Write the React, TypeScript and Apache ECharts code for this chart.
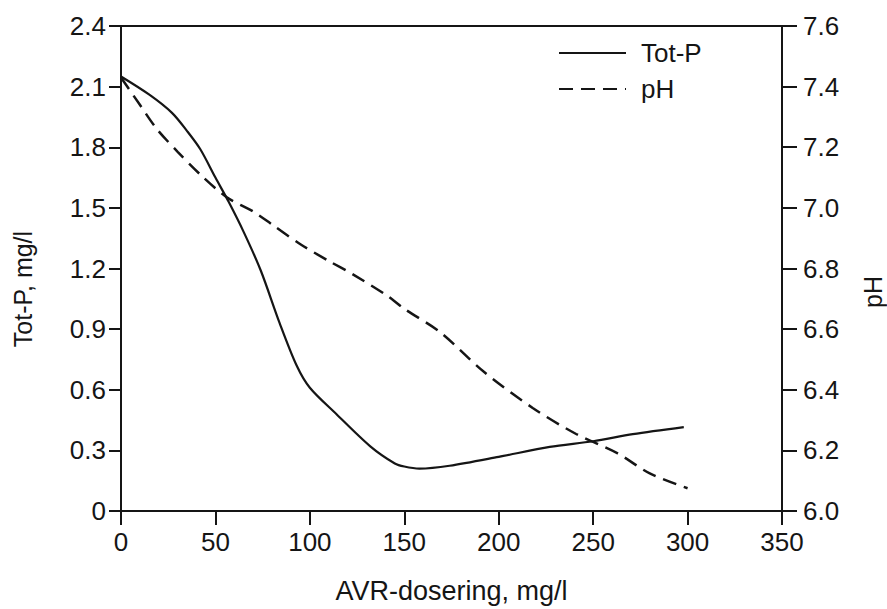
import React, { useEffect, useRef } from "react";
import * as echarts from "echarts";

// AVR dosage (mg/l) vs Tot-P (mg/l)
const totPDose = [0, 15, 27, 35, 42, 50, 57, 65, 74, 84, 93, 100, 114, 132, 145, 150, 158, 174, 200, 227, 250, 271, 298];
const totPValues = [2.15, 2.06, 1.97, 1.88, 1.79, 1.65, 1.53, 1.38, 1.19, 0.93, 0.72, 0.61, 0.48, 0.32, 0.235, 0.22, 0.21, 0.224, 0.268, 0.317, 0.345, 0.38, 0.415];

// AVR dosage (mg/l) vs pH
const phDose = [0, 10, 19, 30, 42, 56, 70, 80, 95, 110, 123, 141, 150, 169, 192, 218, 241, 263, 280, 300];
const phValues = [7.43, 7.34, 7.26, 7.185, 7.11, 7.035, 6.988, 6.945, 6.88, 6.825, 6.78, 6.71, 6.667, 6.59, 6.46, 6.34, 6.254, 6.19, 6.124, 6.075];

const seriesNames = ["Tot-P", "pH"];
const xAxisName = "AVR-dosering, mg/l";
const leftAxisName = "Tot-P, mg/l";
const rightAxisName = "pH";

const FONT = "'Liberation Sans', Arial, Helvetica, sans-serif";
const INK = "#151515";

export default function App() {
  const ref = useRef<HTMLDivElement>(null);

  useEffect(() => {
    if (!ref.current) return;
    const chart = echarts.init(ref.current, null, { renderer: "svg" });
    const labelStyle = { color: INK, fontSize: 26, fontFamily: FONT };
    const lineStyle = { color: INK, width: 2 };

    chart.setOption({
      animation: false,
      backgroundColor: "#ffffff",
      textStyle: { fontFamily: FONT, color: INK },
      grid: { left: 121, right: 105, top: 26, bottom: 91, containLabel: false },
      legend: {
        orient: "vertical",
        left: 553,
        top: 35,
        itemWidth: 67,
        itemHeight: 14,
        itemGap: 10,
        data: seriesNames,
        itemStyle: { opacity: 0 },
        textStyle: { color: INK, fontSize: 26, fontFamily: FONT, lineHeight: 26, padding: [0, 0, 0, 10] },
      },
      xAxis: [
        {
          type: "value",
          min: 0,
          max: 350,
          interval: 50,
          name: xAxisName,
          nameLocation: "middle",
          nameGap: 66,
          nameTextStyle: { color: INK, fontSize: 27, fontFamily: FONT },
          axisLine: { show: true, onZero: false, lineStyle },
          axisTick: { show: true, inside: false, length: 14, lineStyle },
          axisLabel: { ...labelStyle, margin: 18 },
          splitLine: { show: false },
        },
        {
          type: "value",
          position: "top",
          min: 0,
          max: 350,
          axisLine: { show: true, onZero: false, lineStyle },
          axisTick: { show: false },
          axisLabel: { show: false },
          splitLine: { show: false },
        },
      ],
      yAxis: [
        {
          type: "value",
          min: 0,
          max: 2.4,
          interval: 0.3,
          position: "left",
          axisLine: { show: true, onZero: false, lineStyle },
          axisTick: { show: true, inside: false, length: 12, lineStyle },
          axisLabel: {
            ...labelStyle,
            margin: 15,
            formatter: (v: number) => (v === 0 ? "0" : v.toFixed(1)),
          },
          splitLine: { show: false },
        },
        {
          type: "value",
          min: 6.0,
          max: 7.6,
          interval: 0.2,
          position: "right",
          axisLine: { show: true, onZero: false, lineStyle },
          axisTick: { show: true, inside: false, length: 15, lineStyle },
          axisLabel: {
            ...labelStyle,
            margin: 21,
            formatter: (v: number) => v.toFixed(1),
          },
          splitLine: { show: false },
        },
      ],
      graphic: [
        {
          type: "text",
          x: 23,
          y: 289,
          rotation: Math.PI / 2,
          style: {
            text: leftAxisName,
            fontSize: 25,
            fontFamily: FONT,
            fill: INK,
            align: "center",
            verticalAlign: "middle",
          },
        },
        {
          type: "text",
          x: 873,
          y: 292,
          rotation: Math.PI / 2,
          style: {
            text: rightAxisName,
            fontSize: 25,
            fontFamily: FONT,
            fill: INK,
            align: "center",
            verticalAlign: "middle",
          },
        },
      ],
      series: [
        {
          name: seriesNames[0],
          type: "line",
          xAxisIndex: 0,
          yAxisIndex: 0,
          data: totPDose.map((d, i) => [d, totPValues[i]]),
          showSymbol: false,
          symbol: "none",
          smooth: 0.3,
          lineStyle: { color: INK, width: 2.2, type: "solid" },
          itemStyle: { color: INK },
        },
        {
          name: seriesNames[1],
          type: "line",
          xAxisIndex: 0,
          yAxisIndex: 1,
          data: phDose.map((d, i) => [d, phValues[i]]),
          showSymbol: false,
          symbol: "none",
          smooth: 0.3,
          lineStyle: { color: INK, width: 2.5, type: [14, 8] },
          itemStyle: { color: INK },
        },
      ],
    });

    return () => chart.dispose();
  }, []);

  return (
    <div
      ref={ref}
      style={{ position: "fixed", left: 0, top: 0, width: 887, height: 609, background: "#fff" }}
    />
  );
}
